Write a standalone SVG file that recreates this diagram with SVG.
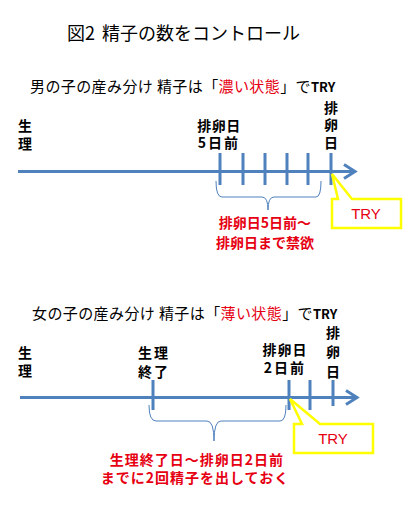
<svg xmlns="http://www.w3.org/2000/svg" width="405" height="505" viewBox="0 0 405 505">
<style>
.t{font-family:"Noto Sans CJK JP","Liberation Sans",sans-serif;fill:#000}
.title{font-size:18px}
.sub{font-size:15px;letter-spacing:0.4px}
.lab{font-size:14px;font-weight:bold;text-anchor:middle}
.red{fill:#e60012}
.rt{font-family:"Noto Sans CJK JP","Liberation Sans",sans-serif;font-size:14px;font-weight:bold;fill:#e60012;text-anchor:middle}
.try{font-family:"Liberation Sans",Arial,sans-serif;font-size:15px;fill:#e60012;text-anchor:middle}
.axis{stroke:#4f81bd;stroke-width:3;fill:none}
.tick{stroke:#4f81bd;stroke-width:3}
.brace{stroke:#4f81bd;stroke-width:1;fill:none}
.call{fill:#fff;stroke:#ffff00;stroke-width:2.5;stroke-linejoin:miter}
</style>
<rect width="405" height="505" fill="#fff"/>
<g id="title"><text class="t title" x="67" y="40">図2 <tspan dx="3">精子の数をコントロール</tspan></text></g>

<g id="subtitle1"><text class="t sub" x="30" y="92">男の子の産み分け 精子は「<tspan class="red">濃い状態</tspan>」で<tspan font-size="13" font-weight="bold" letter-spacing="0">TRY</tspan></text></g>
<g id="subtitle2"><text class="t sub" x="32" y="319">女の子の産み分け 精子は「<tspan class="red">薄い状態</tspan>」で<tspan font-size="13" font-weight="bold" letter-spacing="0">TRY</tspan></text></g>

<g id="connectors">
  <line class="axis" x1="18" y1="171.5" x2="354" y2="171.5"/>
  <polyline class="axis" points="344,164.5 355,171.5 344,178.5"/>
  <line class="tick" x1="220" y1="153" x2="220" y2="185"/>
  <line class="tick" x1="243" y1="153" x2="243" y2="185"/>
  <line class="tick" x1="265" y1="153" x2="265" y2="185"/>
  <line class="tick" x1="287" y1="153" x2="287" y2="185"/>
  <line class="tick" x1="308" y1="153" x2="308" y2="185"/>
  <line class="tick" x1="331" y1="153" x2="331" y2="185"/>
  <path class="brace" d="M216,181 Q216,197 222,197 L262,197 Q268,197 268,210 Q268,197 274,197 L316,197 Q321,197 321,181"/>

  <line class="axis" x1="20" y1="397.5" x2="356" y2="397.5"/>
  <polyline class="axis" points="346,390.5 357,397.5 346,404.5"/>
  <line class="tick" x1="153" y1="380" x2="153" y2="410"/>
  <line class="tick" x1="289" y1="380" x2="289" y2="410"/>
  <line class="tick" x1="310" y1="380" x2="310" y2="410"/>
  <line class="tick" x1="333" y1="380" x2="333" y2="406"/>
  <path class="brace" d="M149,405 Q149,421 156,421 L207,421 Q214,421 214,441 Q214,421 221,421 L280,421 Q286,421 286,405"/>
</g>

<g id="label-seiri1">
  <text class="t lab" x="25" y="131">生</text>
  <text class="t lab" x="25" y="149">理</text>
</g>
<g id="label-5days">
  <text class="t lab" x="219" y="131" letter-spacing="0.5">排卵日</text>
  <text class="t lab" x="219" y="148" letter-spacing="2">5日前</text>
</g>
<g id="label-ovu1">
  <text class="t lab" x="331" y="113">排</text>
  <text class="t lab" x="331" y="130">卵</text>
  <text class="t lab" x="331" y="148">日</text>
</g>
<g id="note1">
  <text class="rt" x="265" y="228">排卵日5日前～</text>
  <text class="rt" x="265" y="248">排卵日まで禁欲</text>
</g>
<g id="try1">
  <path class="call" d="M332,199 L338,199 L332,174 L352,199 L401,199 L401,228 L332,228 Z"/>
  <text class="try" x="366" y="219">TRY</text>
</g>

<g id="label-seiri2">
  <text class="t lab" x="25" y="358">生</text>
  <text class="t lab" x="25" y="376">理</text>
</g>
<g id="label-seiriend">
  <text class="t lab" x="154" y="358" letter-spacing="2">生理</text>
  <text class="t lab" x="154" y="377" letter-spacing="2">終了</text>
</g>
<g id="label-2days">
  <text class="t lab" x="285" y="355" letter-spacing="1">排卵日</text>
  <text class="t lab" x="285" y="373" letter-spacing="2">2日前</text>
</g>
<g id="label-ovu2">
  <text class="t lab" x="333" y="338">排</text>
  <text class="t lab" x="333" y="357">卵</text>
  <text class="t lab" x="333" y="377">日</text>
</g>
<g id="note2">
  <text class="rt" x="197" y="465" letter-spacing="1">生理終了日～排卵日2日前</text>
  <text class="rt" x="195" y="483" letter-spacing="1">までに2回精子を出しておく</text>
</g>
<g id="try2">
  <path class="call" d="M294,424 L302,424 L290,399 L320,424 L373,424 L373,453 L294,453 Z"/>
  <text class="try" x="333" y="444">TRY</text>
</g>
</svg>
